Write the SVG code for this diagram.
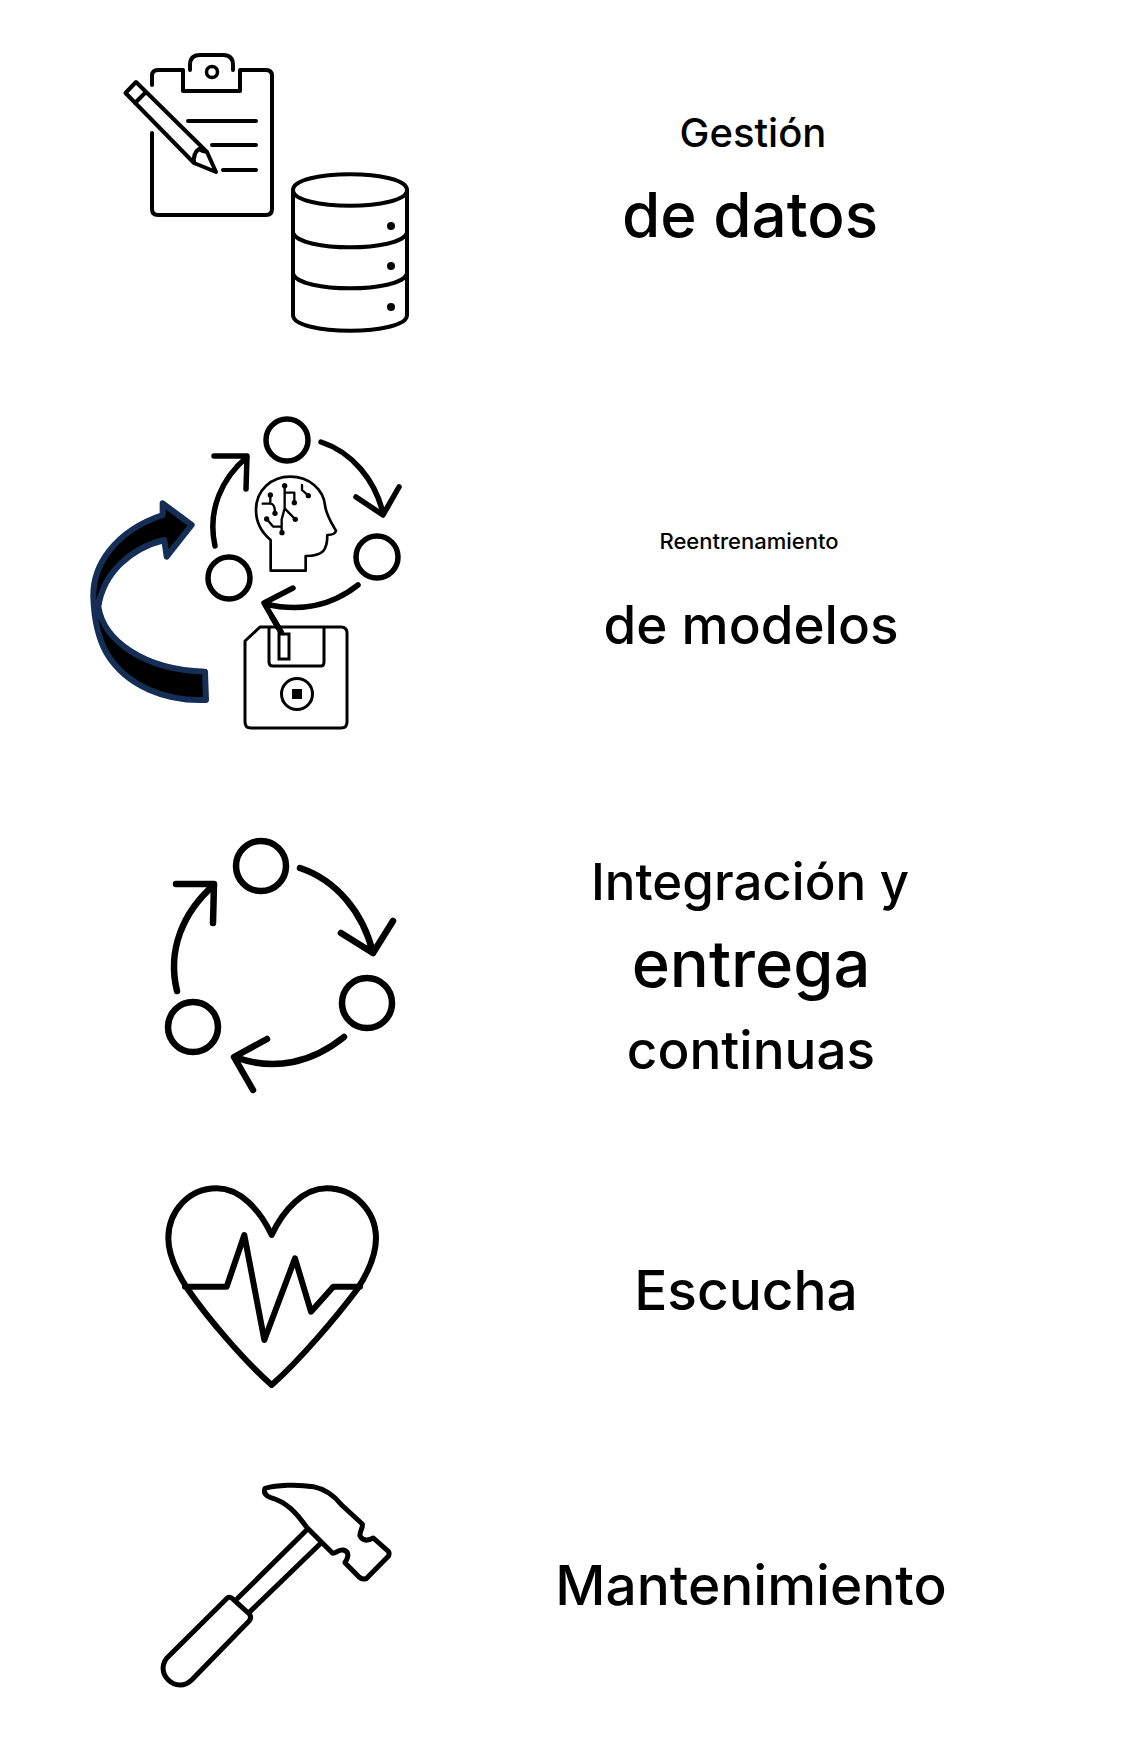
<svg xmlns="http://www.w3.org/2000/svg" width="1135" height="1760" viewBox="0 0 1135 1760">
<style>
.l{fill:none;stroke:#000;stroke-linecap:round;stroke-linejoin:round}
.t{font-family:Inter,Roboto,"Noto Sans",sans-serif;font-weight:500;fill:#000;text-anchor:middle}
</style>
<rect width="1135" height="1760" fill="#fff"/>
<g id="node-datos">
<path class="l" stroke-width="4" d="M152 85V76Q152 70 158 70H183V91H240V70H266Q272 70 272 76V209Q272 215 266 215H158Q152 215 152 209V133"/>
<path class="l" stroke-width="4" d="M190 70V65Q190 55 200 55H223Q233 55 233 65V70"/>
<circle class="l" stroke-width="3.5" cx="212" cy="72" r="5.5"/>
<path class="l" stroke-width="4" d="M125.500 93L136 82 207 152 216 172 194 163ZM135 103L146 92M194 163Q193 153 199 149Q202 151 207 152"/>
<path class="l" stroke-width="4" stroke-linecap="butt" d="M188 121H256M212 145H256M223 170H256"/>
<path class="l" stroke-width="4" d="M293 190C293 169 407 169 407 190V315C407 336 293 336 293 315ZM293 190C293 211 407 211 407 190M293 233C300 252 400 252 407 233M293 274C300 293 400 293 407 274"/>
<circle cx="391" cy="226" r="4"/><circle cx="391" cy="266" r="4"/><circle cx="391" cy="307" r="4"/>
</g>
<g id="node-modelos">
<circle class="l" stroke-width="5.500" cx="287" cy="440" r="21"/>
<circle class="l" stroke-width="5.500" cx="377" cy="557" r="21"/>
<circle class="l" stroke-width="5.500" cx="229" cy="578" r="21"/>
<path class="l" stroke-width="5.500" d="M321 442C352 452 375 480 383 513M356 497L383 515 399 487"/>
<path class="l" stroke-width="5.500" d="M215 546C207 510 222 478 247 457M214 456H247L246 489"/>
<path class="l" stroke-width="5.500" d="M358 585C330 607 300 612 265 604M293 588L264 603 281 632"/>
<g transform="translate(240 460) scale(.3333)">
<path class="l" stroke-width="8" d="M92 332V240C62 215 48 185 48 150C48 90 95 50 150 50C210 50 250 90 255 135C258 165 275 190 288 212Q286 225 262 225C262 270 250 288 197 288V332Z"/>
<path class="l" stroke-width="7" d="M68 131H91V105M91 131Q105 131 105 160M134 77V145L166 178M134 98H163V128M134 145L125 178V218M80 177L100 200H125M186 75V90L205 107"/>
<circle cx="91" cy="105" r="8"/><circle cx="105" cy="160" r="8"/><circle cx="134" cy="77" r="8"/><circle cx="163" cy="128" r="8"/><circle cx="166" cy="178" r="8"/><circle cx="80" cy="177" r="8"/><circle cx="126" cy="218" r="8"/><circle cx="205" cy="107" r="8"/>
</g>
<path class="l" stroke-width="3" d="M260 627H341Q347 627 347 633V722Q347 728 341 728H251Q245 728 245 722V641ZM269 627V662Q269 666 273 666H321Q324 666 324 662V627"/>
<rect x="279" y="634" width="10" height="25" fill="#fff" stroke="#000" stroke-width="3"/>
<path class="l" stroke-width="5.500" d="M281 632L272 617"/>
<circle class="l" stroke-width="3" cx="297" cy="694" r="15.500"/>
<rect x="292" y="689" width="10" height="10"/>
<g transform="translate(70 400) scale(.3333)">
<path d="M405 815L408 900C290 905 170 860 110 760C85 715 72 660 70 590C68 500 130 395 278 345L278 310 365 375 290 470 283 420C180 445 100 520 85 620C100 720 220 810 405 815Z" fill="#000" stroke="#152e55" stroke-width="18" stroke-linejoin="round"/>
</g>
</g>
<g id="node-integracion">
<circle class="l" stroke-width="6.500" cx="261" cy="866" r="25"/>
<circle class="l" stroke-width="6.500" cx="367" cy="1003" r="25"/>
<circle class="l" stroke-width="6.500" cx="193" cy="1027" r="25"/>
<path class="l" stroke-width="6.500" d="M300 868C336 880 363 912 373 953M341 933L373 953 393 921"/>
<path class="l" stroke-width="6.500" d="M177 991C167 950 183 912 214 885M176 884H214L213 923"/>
<path class="l" stroke-width="6.500" d="M344 1037C313 1062 275 1072 235 1057M267 1039L234 1057 253 1090"/>
</g>
<g id="node-escucha">
<g transform="translate(150 1170) scale(.3333)">
<path class="l" stroke-width="18" d="M365 195C330 120 270 55 200 55C115 55 55 125 55 205C55 250 75 300 115 360C170 440 280 570 365 645C450 570 560 440 620 360C660 300 678 250 678 205C678 125 615 55 530 55C460 55 400 120 365 195Z"/>
<path class="l" stroke-width="18" d="M105 350H230L283 195 343 510 435 265 483 425 550 350H630"/>
</g>
</g>
<g id="node-mantenimiento">
<g transform="translate(150 1470) scale(.3333)">
<path class="l" stroke-width="15" d="M345 55C380 45 440 42 490 50C530 58 555 80 575 105L637 162C640 172 628 185 630 198C640 215 655 212 670 204L716 245Q720 255 712 262L650 325Q638 330 628 322L585 278C595 262 600 245 580 240C565 238 560 250 548 250L470 172C440 130 410 95 360 82Q338 72 345 55Z"/>
<path class="l" stroke-width="15" d="M470 180L263 385M510 222L300 425"/>
<path class="l" stroke-width="15" d="M232 384Q240 378 250 388L298 432Q306 442 298 452L125 630C105 650 75 650 55 630C35 610 35 585 50 565Z"/>
</g>
</g>
<text class="t" x="753" y="147" font-size="40">Gestión</text>
<text class="t" x="750" y="237" font-size="62">de datos</text>
<text class="t" x="749" y="549" font-size="22">Reentrenamiento</text>
<text class="t" x="751" y="644" font-size="53">de modelos</text>
<text class="t" x="750" y="900" font-size="51">Integración y</text>
<text class="t" x="751" y="987" font-size="65">entrega</text>
<text class="t" x="751" y="1069" font-size="53">continuas</text>
<text class="t" x="746" y="1310" font-size="55">Escucha</text>
<text class="t" x="751" y="1605" font-size="55">Mantenimiento</text>
</svg>
